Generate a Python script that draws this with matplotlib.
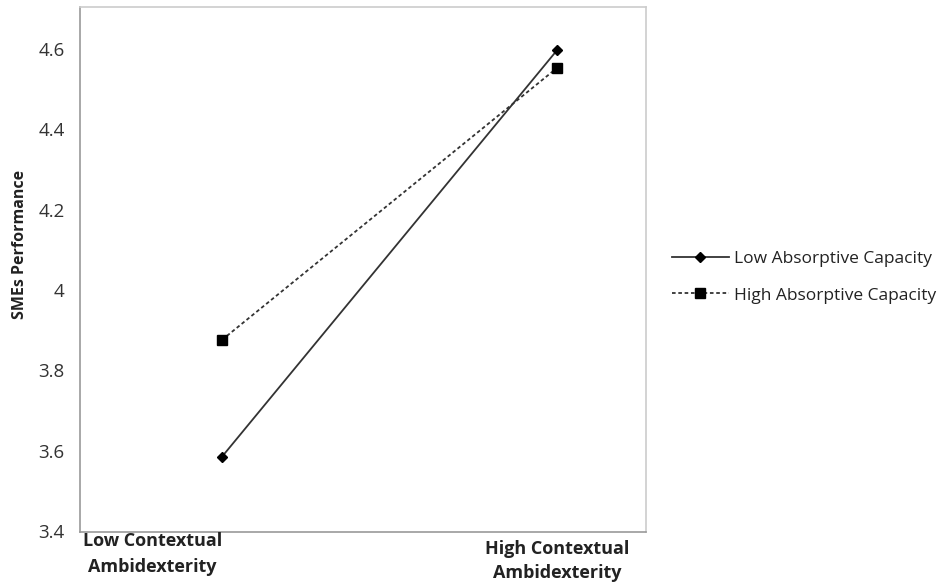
import matplotlib.pyplot as plt

plt.rcParams['font.family'] = ['Open Sans', 'DejaVu Sans']

# data
conditions = ['Low Contextual\nAmbidexterity', 'High Contextual\nAmbidexterity']
x_pos = [0, 1]
low_absorptive = [3.585, 4.597]
high_absorptive = [3.876, 4.553]
y_ticks = [3.4, 3.6, 3.8, 4.0, 4.2, 4.4, 4.6]
y_labels = ['3.4', '3.6', '3.8', '4', '4.2', '4.4', '4.6']

fig = plt.figure(figsize=(9.47, 5.82), dpi=100)
ax = fig.add_axes([80 / 947, 1 - 532 / 582, (646 - 80) / 947, (532 - 7) / 582])

ax.plot(x_pos, low_absorptive, color='#333333', lw=1.3, ls='-',
        marker='D', ms=5.5, mfc='black', mec='black', label='Low Absorptive Capacity')
ax.plot(x_pos, high_absorptive, color='#333333', lw=1.3, ls=(0, (2, 1.5)),
        marker='s', ms=7.5, mfc='black', mec='black', label='High Absorptive Capacity')

ax.set_xlim(-0.424, 1.266)
ax.set_ylim(3.3975, 4.705)
ax.set_yticks(y_ticks)
ax.set_yticklabels(y_labels, fontsize=13.5, color='#333333')
ax.tick_params(axis='y', length=0, pad=11)
ax.set_xticks([])

for s in ax.spines.values():
    s.set_color('#cccccc')
    s.set_linewidth(1.2)
ax.spines['left'].set_color('#999999')
ax.spines['bottom'].set_color('#999999')

# category labels under the axis
ax.text(83 / 947, 1 - 554 / 582, conditions[0], transform=fig.transFigure,
        ha='left', va='center', fontsize=13, fontweight='bold', color='#222222',
        multialignment='center', linespacing=1.5)
ax.text(x_pos[1], -(561 - 532) / 525, conditions[1], transform=ax.get_xaxis_transform(),
        ha='center', va='center', fontsize=13, fontweight='bold', color='#222222',
        multialignment='center', linespacing=1.5)

ax.set_ylabel('SMEs Performance', fontsize=11.5, fontweight='bold', color='#222222')
ax.yaxis.set_label_coords(-(80 - 28) / 566, (532 - 244) / 525)

fig.legend(loc='center left', bbox_to_anchor=(656 / 947, 1 - 277 / 582), frameon=False,
           fontsize=12.5, handlelength=3.3, handletextpad=0.3, labelspacing=1.2,
           labelcolor='#222222')

fig.savefig('out.png', dpi=100)
